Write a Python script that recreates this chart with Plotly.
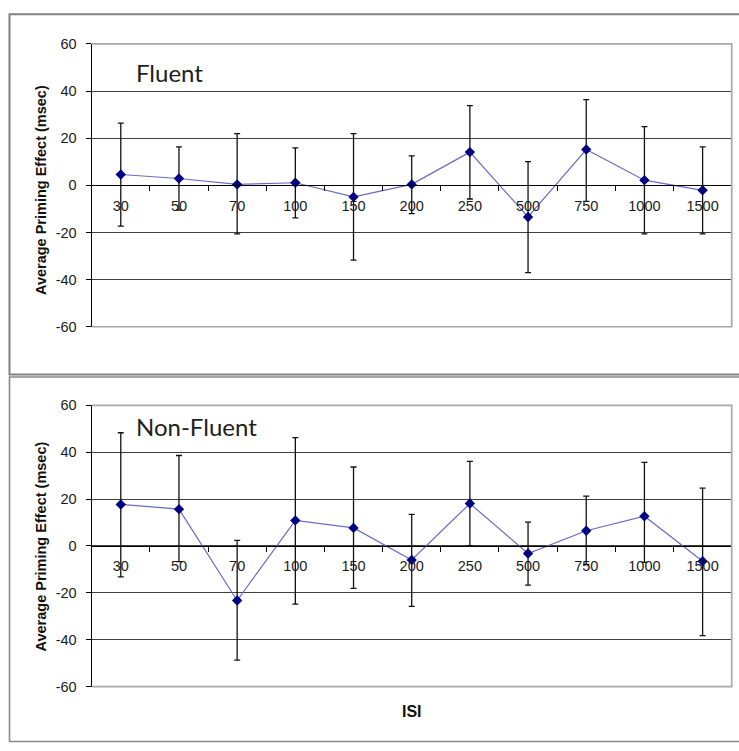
import plotly.graph_objects as go

# ---------------- data ----------------
isi_labels = ["30", "50", "70", "100", "150", "200", "250", "500", "750", "1000", "1500"]

fluent_mean = [4.6, 2.9, 0.4, 1.1, -4.9, 0.4, 14.1, -13.4, 15.2, 2.2, -2.1]
fluent_upper = [26.4, 16.3, 21.9, 15.9, 21.9, 12.5, 33.8, 10.1, 36.4, 24.9, 16.3]
fluent_lower = [-17.3, -10.5, -20.6, -13.8, -31.7, -12.0, -5.8, -37.0, -6.8, -20.6, -20.6]

nonfluent_mean = [17.7, 15.7, -23.3, 10.9, 7.7, -6.0, 18.1, -3.2, 6.5, 12.7, -6.5]
nonfluent_upper = [48.3, 38.6, 2.4, 46.2, 33.7, 13.5, 36.1, 10.2, 21.3, 35.7, 24.7]
nonfluent_lower = [-13.2, -6.7, -48.7, -24.8, -18.1, -25.8, 0.1, -16.7, -7.9, -7.0, -38.3]

y_ticks = [-60, -40, -20, 0, 20, 40, 60]
y_tick_labels = ["-60", "-40", "-20", "0", "20", "40", "60"]
panel_titles = ["Fluent", "Non-Fluent"]
y_title = "Average Priming Effect (msec)"
x_title = "ISI"

# ---------------- layout constants ----------------
W, H = 739, 751
x_dom = [91.7 / W, 731.7 / W]
top_dom = [1 - 325.7 / H, 1 - 36.7 / H]
bot_dom = [1 - 693.3 / H, 1 - 406.0 / H]

LINE_COLOR = "#6b6bc4"
MARKER_COLOR = "#000080"
GRID_COLOR = "#404040"
BORDER_COLOR = "#a8a8a8"
TICK_FONT = dict(family="Liberation Sans, Arial", size=14.5, color="#1a1a1a")

fig = go.Figure()


def add_series(mean, upper, lower, xa, ya):
    fig.add_trace(go.Scatter(
        x=isi_labels, y=mean, xaxis=xa, yaxis=ya,
        mode="lines+markers",
        line=dict(color=LINE_COLOR, width=1.2),
        marker=dict(symbol="diamond", size=8, color=MARKER_COLOR),
        error_y=dict(type="data", symmetric=False,
                     array=[u - m for u, m in zip(upper, mean)],
                     arrayminus=[m - l for m, l in zip(mean, lower)],
                     color="#111111", thickness=1.3, width=3),
        showlegend=False, hoverinfo="x+y",
    ))


add_series(fluent_mean, fluent_upper, fluent_lower, "x", "y")
add_series(nonfluent_mean, nonfluent_upper, nonfluent_lower, "x2", "y2")


def xaxis_cfg(dom):
    return dict(
        domain=x_dom, type="category", categoryorder="array", categoryarray=isi_labels,
        range=[-0.5, len(isi_labels) - 0.5],
        anchor="free", position=(dom[0] + dom[1]) / 2,
        showline=True, linecolor="black", linewidth=1.3,
        ticks="outside", tickson="boundaries", ticklen=5, tickcolor="black", tickwidth=1.2,
        showgrid=False, zeroline=False, tickfont=TICK_FONT, ticklabelstandoff=7,
        fixedrange=True,
    )


def yaxis_cfg(dom, anchor_x):
    return dict(
        domain=dom, anchor=anchor_x, range=[-60, 60],
        tickmode="array", tickvals=y_ticks, ticktext=y_tick_labels,
        showline=True, linecolor="black", linewidth=1.3,
        ticks="outside", ticklen=5, tickcolor="black", tickwidth=1.2,
        showgrid=True, gridcolor=GRID_COLOR, gridwidth=1.4,
        zeroline=False, tickfont=TICK_FONT, ticklabelstandoff=6,
        fixedrange=True,
    )


fig.update_layout(
    width=W, height=H, margin=dict(l=0, r=0, t=0, b=0),
    paper_bgcolor="white", plot_bgcolor="white",
    xaxis=xaxis_cfg(top_dom), xaxis2=xaxis_cfg(bot_dom),
    yaxis=yaxis_cfg(top_dom, "x"), yaxis2=yaxis_cfg(bot_dom, "x2"),
)

shapes = []
# plot-area borders (top, right, bottom) in light grey
for dom in (top_dom, bot_dom):
    x0, x1 = x_dom
    y0, y1 = dom
    shapes.append(dict(type="path", xref="paper", yref="paper",
                       path=f"M {x0},{y1} L {x1},{y1} L {x1},{y0} L {x0},{y0}",
                       line=dict(color=BORDER_COLOR, width=1.7), layer="above"))
# outer panel frames
shapes.append(dict(type="rect", xref="paper", yref="paper",
                   x0=9.5 / W, x1=1.05, y0=1 - 374.5 / H, y1=1 - 6.5 / H,
                   line=dict(color="#808080", width=2), layer="below"))
shapes.append(dict(type="rect", xref="paper", yref="paper",
                   x0=9.5 / W, x1=1.05, y0=1 - 749.5 / H, y1=1 - 377.0 / H,
                   line=dict(color="#8a8a8a", width=1.6), layer="below"))
fig.update_layout(shapes=shapes)

annotations = []
for title, ycen in zip(panel_titles, (66, 428)):
    annotations.append(dict(text=title, xref="paper", yref="paper",
                            x=134 / W, y=1 - ycen / H, xanchor="left", yanchor="middle",
                            showarrow=False,
                            font=dict(family="Lato", size=24, color="#1e1e1e")))
for ycen in (186.5, 550.7):
    annotations.append(dict(text=y_title, xref="paper", yref="paper",
                            x=40.5 / W, y=1 - ycen / H, textangle=-90,
                            xanchor="center", yanchor="middle", showarrow=False,
                            font=dict(family="Liberation Sans, Arial", size=14.5,
                                      color="#111111", weight="bold")))
annotations.append(dict(text=x_title, xref="paper", yref="paper",
                        x=412 / W, y=1 - 719 / H, xanchor="center", yanchor="middle",
                        showarrow=False,
                        font=dict(family="Liberation Sans, Arial", size=16,
                                  color="#111111", weight="bold")))
fig.update_layout(annotations=annotations)

fig.write_html("out.html", config={"displayModeBar": False},
               post_script="document.body.style.margin='0';document.body.style.overflow='hidden';")
